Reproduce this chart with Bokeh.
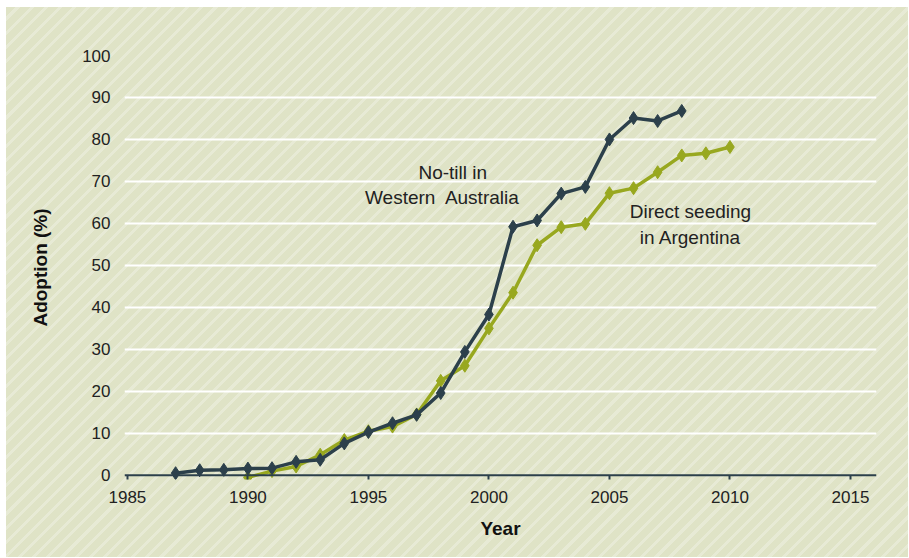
from bokeh.plotting import figure
from bokeh.models import Range1d, Span, Label, FixedTicker, ColumnDataSource
from bokeh.embed import file_html
from bokeh.resources import INLINE

wa_years = list(range(1987, 2009))
wa_values = [0.5, 1.2, 1.3, 1.6, 1.7, 3.2, 3.7, 7.6, 10.3, 12.4, 14.4, 19.6, 29.4,
             38.3, 59.2, 60.7, 67.1, 68.7, 80.0, 85.1, 84.4, 86.8]
ar_years = list(range(1990, 2011))
ar_values = [-0.5, 1.0, 2.1, 4.9, 8.4, 10.5, 11.6, 14.5, 22.5, 26.1, 35.0, 43.5,
             54.8, 59.1, 59.9, 67.2, 68.4, 72.2, 76.2, 76.7, 78.2]
x_ticks = [1985, 1990, 1995, 2000, 2005, 2010, 2015]
y_ticks = [0, 10, 20, 30, 40, 50, 60, 70, 80, 90, 100]

DARK = "#2c404b"
GREEN = "#98a81f"
FONT = "Liberation Sans"

p = figure(width=902, height=550, output_backend="svg", toolbar_location=None,
           x_range=Range1d(1984.88, 2016.08), y_range=Range1d(-1.0, 100),
           min_border_left=118, min_border_right=32, min_border_top=48,
           min_border_bottom=78)

p.background_fill_alpha = 0
p.border_fill_alpha = 0
p.outline_line_color = None
p.styles = {
    "margin-left": "6px",
    "margin-top": "7px",
    "background": "repeating-linear-gradient(135deg, #dfe3c6 0px, #dfe3c6 7px, #e7ead5 7px, #e7ead5 10px)",
}

p.xgrid.grid_line_color = None
p.ygrid.grid_line_color = "white"
p.ygrid.grid_line_width = 2
p.ygrid.ticker = FixedTicker(ticks=y_ticks[1:])

p.xaxis.ticker = FixedTicker(ticks=x_ticks)
p.yaxis.ticker = FixedTicker(ticks=y_ticks)
p.xaxis.axis_line_color = None
p.yaxis.axis_line_color = None
p.yaxis.major_tick_line_color = None
p.yaxis.minor_tick_line_color = None
p.xaxis.minor_tick_line_color = None
p.xaxis.major_tick_line_color = DARK
p.xaxis.major_tick_line_width = 2
p.xaxis.major_tick_in = 4
p.xaxis.major_tick_out = 0

for ax in (p.xaxis, p.yaxis):
    ax.major_label_text_font = FONT
    ax.major_label_text_font_size = "17px"
    ax.major_label_text_color = "#222222"
    ax.axis_label_text_font = FONT
    ax.axis_label_text_font_size = "19px"
    ax.axis_label_text_font_style = "bold"
    ax.axis_label_text_color = "#111111"

p.xaxis.axis_label = "Year"
p.yaxis.axis_label = "Adoption (%)"
p.xaxis.major_label_standoff = 11
p.xaxis.axis_label_standoff = 12
p.yaxis.major_label_standoff = 8
p.yaxis.axis_label_standoff = 28

p.add_layout(Span(location=0, dimension="width", line_color=DARK, line_width=2))

wa = ColumnDataSource(dict(x=wa_years, y=wa_values))
ar = ColumnDataSource(dict(x=ar_years, y=ar_values))

p.line("x", "y", source=ar, line_color=GREEN, line_width=3.5)
p.scatter("x", "y", source=ar, marker="diamond", size=13, fill_color=GREEN, line_color=GREEN)
p.line("x", "y", source=wa, line_color=DARK, line_width=3.5)
p.scatter("x", "y", source=wa, marker="diamond", size=13, fill_color=DARK, line_color=DARK)

def lab(x, y, t):
    p.add_layout(Label(x=x, y=y, text=t, text_font=FONT, text_font_size="19px",
                       text_color="#222222", text_align="center", text_baseline="middle"))

lab(1998.5, 72.1, "No-till in")
lab(1998.07, 66.2, "Western\u00a0 Australia")
lab(2008.36, 62.9, "Direct seeding")
lab(2008.36, 56.7, "in Argentina")

open("out.html", "w").write(file_html(p, INLINE))
